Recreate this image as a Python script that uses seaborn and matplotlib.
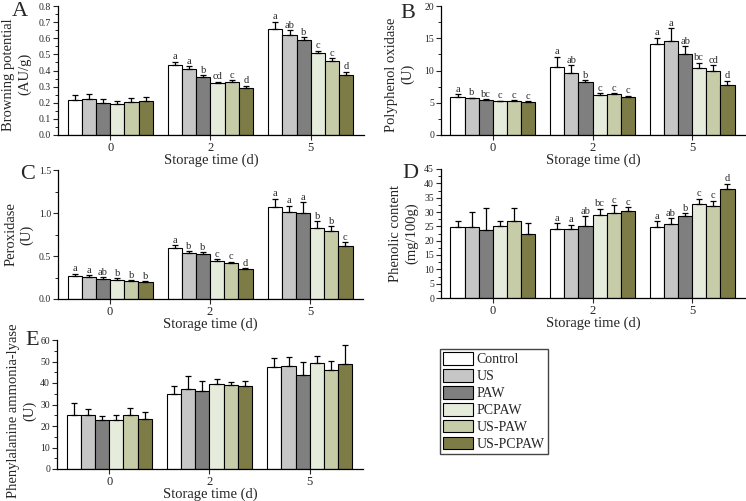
import matplotlib
matplotlib.use("Agg")
import matplotlib.pyplot as plt
from matplotlib.patches import Patch
from matplotlib.ticker import AutoMinorLocator, MultipleLocator, FormatStrFormatter
import pandas as pd
import seaborn as sns

# categories
days = ["0", "2", "5"]
treatments = ["Control", "US", "PAW", "PCPAW", "US-PAW", "US-PCPAW"]
colors = ["#ffffff", "#c6c6c6", "#7f7f7f", "#e6ecdb", "#c7cca8", "#7e7c46"]

# A - browning potential (rows = day 0/2/5, cols = treatments)
browning_mean = [[0.217, 0.221, 0.200, 0.192, 0.207, 0.210],
                 [0.434, 0.407, 0.357, 0.320, 0.326, 0.293],
                 [0.655, 0.618, 0.587, 0.507, 0.459, 0.370]]
browning_err = [[0.030, 0.031, 0.021, 0.018, 0.024, 0.023],
                [0.021, 0.021, 0.015, 0.010, 0.015, 0.013],
                [0.048, 0.033, 0.021, 0.016, 0.017, 0.023]]
browning_letters = [["", "", "", "", "", ""],
                    ["a", "a", "b", "cd", "c", "d"],
                    ["a", "ab", "b", "c", "c", "d"]]

# B - polyphenol oxidase
ppo_mean = [[5.94, 5.68, 5.43, 5.22, 5.22, 5.12],
            [10.6, 9.56, 8.20, 6.25, 6.30, 5.84],
            [14.1, 14.57, 12.5, 10.39, 9.92, 7.75]]
ppo_err = [[0.35, 0.10, 0.10, 0.10, 0.15, 0.10],
           [1.55, 1.30, 0.30, 0.20, 0.20, 0.25],
           [1.00, 1.95, 1.30, 0.80, 0.90, 0.67]]
ppo_letters = [["a", "b", "bc", "c", "c", "c"],
               ["a", "ab", "b", "c", "c", "c"],
               ["a", "a", "ab", "bc", "cd", "d"]]

# C - peroxidase
pod_mean = [[0.270, 0.255, 0.236, 0.217, 0.205, 0.197],
            [0.588, 0.534, 0.526, 0.437, 0.414, 0.348],
            [1.067, 1.009, 0.998, 0.831, 0.785, 0.619]]
pod_err = [[0.024, 0.023, 0.019, 0.023, 0.012, 0.012],
           [0.038, 0.019, 0.015, 0.027, 0.019, 0.012],
           [0.101, 0.078, 0.127, 0.074, 0.062, 0.042]]
pod_letters = [["a", "a", "ab", "b", "b", "b"],
               ["a", "b", "b", "c", "c", "d"],
               ["a", "a", "a", "b", "b", "c"]]

# D - phenolic content
phenol_mean = [[24.7, 24.9, 23.7, 25.0, 26.7, 22.5],
               [24.0, 24.0, 25.2, 28.8, 29.8, 30.5],
               [24.7, 25.9, 28.5, 32.9, 32.2, 37.9]]
phenol_err = [[2.3, 5.0, 7.7, 1.8, 4.7, 3.6],
              [2.1, 1.5, 3.3, 2.3, 2.6, 1.1],
              [2.0, 2.0, 1.1, 1.7, 1.8, 2.0]]
phenol_letters = [["", "", "", "", "", ""],
                  ["a", "a", "ab", "bc", "c", "c"],
                  ["a", "ab", "b", "c", "c", "d"]]

# E - phenylalanine ammonia-lyase
pal_mean = [[24.9, 24.9, 23.0, 22.6, 24.9, 23.2],
            [34.9, 37.1, 36.5, 39.4, 38.9, 38.5],
            [47.3, 47.9, 43.6, 49.5, 45.9, 48.8]]
pal_err = [[5.7, 3.2, 1.6, 2.3, 3.5, 3.2],
           [3.9, 6.2, 4.6, 2.5, 1.7, 2.6],
           [4.2, 4.4, 6.2, 2.9, 4.5, 8.8]]
pal_letters = [[""] * 6, [""] * 6, [""] * 6]

sns.set_style("ticks")
plt.rcParams["font.family"] = ["Liberation Serif", "DejaVu Serif"]
plt.rcParams["axes.linewidth"] = 0.9

W, H = 746, 501
fig = plt.figure(figsize=(W / 100, H / 100), dpi=100)


def px_axes(left, right, top, bottom):
    return fig.add_axes([left / W, 1 - bottom / H, (right - left) / W, (bottom - top) / H])


def draw_panel(ax, means, errs, letters, ymax, major, ylabel, label_x, label_y=0.5):
    rows = []
    for i, d in enumerate(days):
        for j, t in enumerate(treatments):
            rows.append({"day": d, "treatment": t, "value": means[i][j]})
    df = pd.DataFrame(rows)
    sns.barplot(data=df, x="day", y="value", hue="treatment", order=days,
                hue_order=treatments, palette=colors, saturation=1, width=0.85,
                edgecolor="black", linewidth=0.8, errorbar=None, legend=False, ax=ax)
    bar_groups = list(ax.containers)
    for j, bars in enumerate(bar_groups):
        for i, bar in enumerate(bars):
            x = bar.get_x() + bar.get_width() / 2
            h = bar.get_height()
            e = errs[i][j]
            ax.errorbar(x, h, yerr=[[0], [e]], fmt="none", ecolor="black",
                        elinewidth=0.9, capsize=2.5, capthick=0.9)
            if letters[i][j]:
                ax.annotate(letters[i][j], (x, h + e), xytext=(0, 0.3),
                            textcoords="offset points", ha="center", va="bottom",
                            fontsize=7.5)
    ax.set_xlim(-0.52, 2.53)
    ax.set_ylim(0, ymax)
    ax.yaxis.set_major_locator(MultipleLocator(major))
    ax.yaxis.set_minor_locator(AutoMinorLocator(2))
    ax.tick_params(axis="y", which="major", length=3.5, width=0.8, labelsize=7, pad=1.5)
    ax.tick_params(axis="y", which="minor", length=2, width=0.7)
    ax.tick_params(axis="x", length=3.5, width=0.8, labelsize=9, pad=1.5)
    ax.set_xlabel("Storage time (d)", fontsize=10.5, labelpad=0)
    ax.set_ylabel(ylabel, fontsize=10.5, linespacing=1.25)
    ax.yaxis.set_label_coords(label_x, label_y)
    sns.despine(ax=ax)
    for s in ax.spines.values():
        s.set_color("black")


axA = px_axes(58, 364, 6, 135)
draw_panel(axA, browning_mean, browning_err, browning_letters, 0.8, 0.1,
           "Browning potential\n(AU/g)", -0.088, 0.47)
axA.yaxis.set_major_formatter(FormatStrFormatter("%.1f"))

axB = px_axes(441, 745, 6, 135)
draw_panel(axB, ppo_mean, ppo_err, ppo_letters, 20, 5,
           "Polyphenol oxidase\n(U)", -0.087, 0.47)

axC = px_axes(58, 363, 170, 299)
draw_panel(axC, pod_mean, pod_err, pod_letters, 1.5, 0.5,
           "Peroxidase\n(U)", -0.08)
axC.yaxis.set_major_formatter(FormatStrFormatter("%.1f"))

axD = px_axes(441, 745, 169, 298)
draw_panel(axD, phenol_mean, phenol_err, phenol_letters, 45, 5,
           "Phenolic content\n(mg/100g)", -0.076)

axE = px_axes(57, 363, 340, 469)
draw_panel(axE, pal_mean, pal_err, pal_letters, 60, 10,
           "Phenylalanine ammonia-lyase\n(U)", -0.068, 0.45)

# panel letters
for letter, (lx, ly) in zip("ABCDE", [(12, 2), (400, 4), (20, 165), (402, 164), (25, 331)]):
    fig.text(lx / W, 1 - ly / H, letter, fontsize=16, ha="left", va="top")

handles = [Patch(facecolor=c, edgecolor="black", linewidth=0.8) for c in colors]
fig.legend(handles, treatments, loc="upper left", bbox_to_anchor=(440 / W, 1 - 349 / H),
           borderaxespad=0, fontsize=10, frameon=True, fancybox=False,
           edgecolor="#444444", framealpha=1, handlelength=2.2, handleheight=1.05,
           labelspacing=0.2, handletextpad=0.25, borderpad=0.2)

fig.savefig("out.png", dpi=100)
